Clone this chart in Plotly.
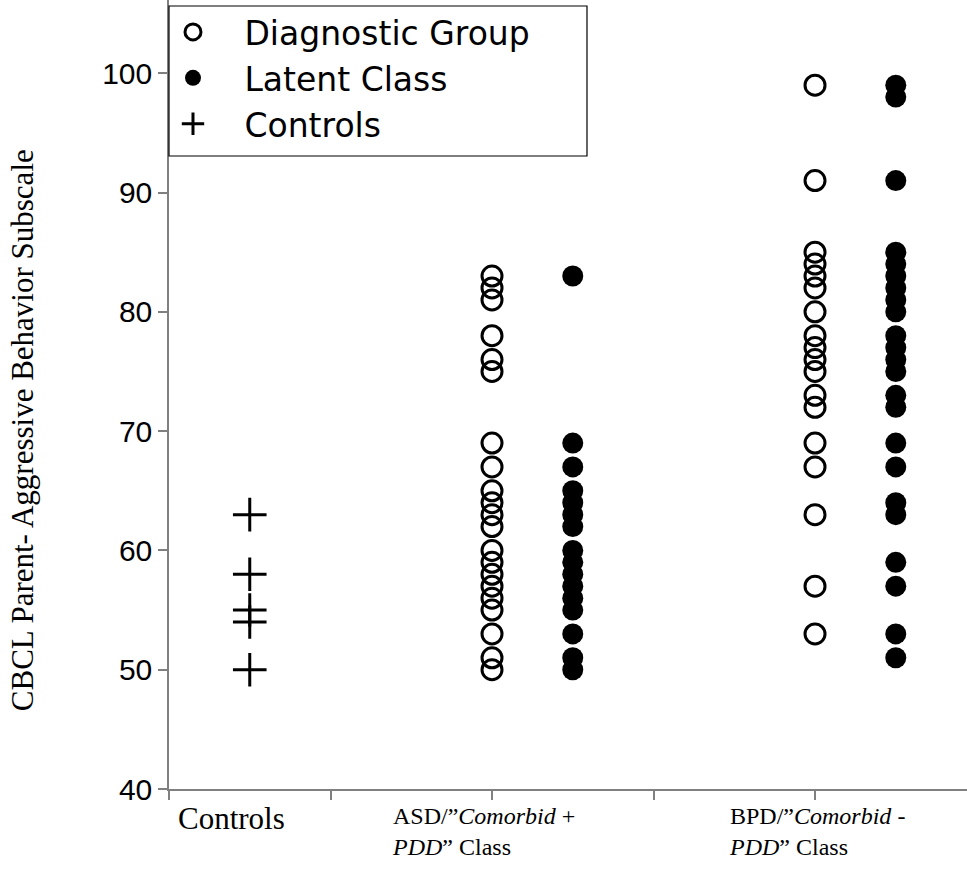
import plotly.graph_objects as go

# ---- data ----
controls_vals = [63, 58, 55, 54, 50]
asd_diag_vals = [83, 82, 81, 78, 76, 75, 69, 67, 65, 64, 63, 62, 60, 59, 58, 57, 56, 55, 53, 51, 50]
asd_latent_vals = [83, 69, 67, 65, 64, 63, 62, 60, 59, 58, 57, 56, 55, 53, 51, 50]
bpd_diag_vals = [99, 91, 85, 84, 83, 82, 80, 78, 77, 76, 75, 73, 72, 69, 67, 63, 57, 53]
bpd_latent_vals = [99, 98, 91, 85, 84, 83, 82, 81, 80, 78, 77, 76, 75, 73, 72, 69, 67, 64, 63, 59, 57, 53, 51]

# x positions of the columns (axis units)
pos_controls = 0.5
pos_asd_diag, pos_asd_latent = 2.0, 2.5
pos_bpd_diag, pos_bpd_latent = 4.0, 4.5

category_labels = ["Controls",
                   "ASD/\u201d<i>Comorbid</i> +<br><i>PDD</i>\u201d Class",
                   "BPD/\u201d<i>Comorbid</i> -<br><i>PDD</i>\u201d Class"]
category_label_x = [0.385, 1.37, 3.455]
category_label_anchor = ["center", "left", "left"]

y_ticks = [40, 50, 60, 70, 80, 90, 100]
legend_names = ["Diagnostic Group", "Latent Class", "Controls"]

SANS = "Liberation Sans, Arial, sans-serif"
LEGEND_FONT = "DejaVu Sans, Liberation Sans, sans-serif"
SERIF = "Liberation Serif, Times New Roman, serif"
sp = "\u00a0\u00a0\u00a0"

fig = go.Figure()
fig.add_trace(go.Scatter(
    x=[pos_asd_diag] * len(asd_diag_vals) + [pos_bpd_diag] * len(bpd_diag_vals),
    y=asd_diag_vals + bpd_diag_vals, mode="markers", name=sp + legend_names[0],
    legendgroup="a",
    marker=dict(symbol="circle-open", size=20, color="black", line=dict(width=3, color="black"))))
fig.add_trace(go.Scatter(
    x=[pos_asd_latent] * len(asd_latent_vals) + [pos_bpd_latent] * len(bpd_latent_vals),
    y=asd_latent_vals + bpd_latent_vals, mode="markers", name=sp + legend_names[1],
    legendgroup="b",
    marker=dict(symbol="circle", size=21, color="black", line=dict(width=0))))
fig.add_trace(go.Scatter(
    x=[pos_controls] * len(controls_vals), y=controls_vals, mode="markers",
    name=sp + legend_names[2], legendgroup="c",
    marker=dict(symbol="cross-thin", size=24, color="black", line=dict(width=3, color="black"))))

annotations = []
for lab, lx, anc in zip(category_labels, category_label_x, category_label_anchor):
    annotations.append(dict(x=lx, xref="x", y=0, yref="paper", yanchor="top",
                            yshift=-12 if anc == "left" else -10,
                            xanchor=anc, align="left", text=lab, showarrow=False,
                            font=dict(family=SERIF, size=24 if anc == "left" else 31, color="black")))
annotations.append(dict(x=-0.184, xref="paper", y=0.455, yref="paper", textangle=-90,
                        xanchor="center", yanchor="middle", showarrow=False,
                        text="CBCL Parent- Aggressive Behavior Subscale",
                        font=dict(family=SERIF, size=31, color="black")))

fig.update_layout(
    width=967, height=871,
    margin=dict(l=169, r=0, t=0, b=82),
    paper_bgcolor="white", plot_bgcolor="white",
    showlegend=True,
    legend=dict(x=0.005, y=0.995, xanchor="left", yanchor="top",
                bgcolor="rgba(0,0,0,0)", borderwidth=0, tracegroupgap=0,
                traceorder="grouped",
                font=dict(family=LEGEND_FONT, size=33, color="black")),
    annotations=annotations,
    shapes=[dict(type="rect", xref="paper", yref="paper", x0=0, x1=0.5238,
                 y0=0.8023, y1=0.9924, line=dict(color="black", width=1.2),
                 fillcolor="rgba(0,0,0,0)", layer="above")],
    xaxis=dict(range=[0, 4.941], tickvals=[0, 1, 2, 3, 4, 5], ticktext=[""] * 6,
               ticks="outside", ticklen=9, tickcolor="#808080", tickwidth=1.5,
               showline=True, linecolor="#808080", linewidth=1.5,
               showgrid=False, zeroline=False),
    yaxis=dict(range=[40, 106.14], tickvals=y_ticks,
               ticks="outside", ticklen=9, tickcolor="#808080", tickwidth=1.5,
               showline=True, linecolor="#808080", linewidth=1.5,
               showgrid=False, zeroline=False,
               tickfont=dict(family=SANS, size=30, color="black")),
)

fig.write_html("out.html")
